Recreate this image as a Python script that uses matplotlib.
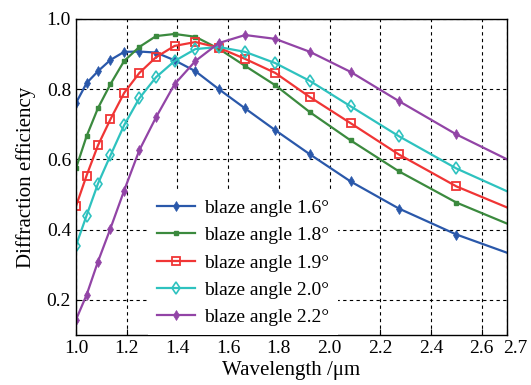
import matplotlib
matplotlib.use('Agg')
import matplotlib.pyplot as plt
import matplotlib.transforms as mtransforms

plt.rcParams['font.family'] = ['Liberation Serif', 'DejaVu Serif']
plt.rcParams['mathtext.fontset'] = 'dejavuserif'

# wavelength samples (um)
wavelength = [1.0, 1.042, 1.087, 1.136, 1.19, 1.25, 1.316, 1.389, 1.471, 1.563,
              1.667, 1.786, 1.923, 2.083, 2.273, 2.5, 2.7]

eff_16 = [0.760, 0.817, 0.851, 0.883, 0.906, 0.907, 0.904, 0.882, 0.851, 0.800,
          0.745, 0.683, 0.614, 0.537, 0.460, 0.386, 0.334]
eff_18 = [0.574, 0.666, 0.746, 0.814, 0.880, 0.920, 0.951, 0.957, 0.949, 0.915,
          0.866, 0.811, 0.734, 0.654, 0.566, 0.477, 0.417]
eff_19 = [0.466, 0.554, 0.640, 0.714, 0.789, 0.846, 0.891, 0.923, 0.934, 0.918,
          0.886, 0.846, 0.777, 0.703, 0.614, 0.523, 0.463]
eff_20 = [0.354, 0.440, 0.531, 0.611, 0.697, 0.774, 0.834, 0.880, 0.914, 0.920,
          0.906, 0.874, 0.823, 0.751, 0.666, 0.574, 0.509]
eff_22 = [0.143, 0.214, 0.309, 0.403, 0.511, 0.626, 0.720, 0.814, 0.880, 0.931,
          0.954, 0.943, 0.906, 0.849, 0.766, 0.671, 0.600]

labels = ['blaze angle 1.6°', 'blaze angle 1.8°', 'blaze angle 1.9°',
          'blaze angle 2.0°', 'blaze angle 2.2°']

xticks = [1.0, 1.2, 1.4, 1.6, 1.8, 2.0, 2.2, 2.4, 2.6, 2.7]
yticks = [0.2, 0.4, 0.6, 0.8, 1.0]

fig = plt.figure(figsize=(5.31, 3.85), dpi=100)
ax = fig.add_axes([0.143, 0.130, 0.812, 0.821])

ax.grid(True, color='black', linestyle=(0, (3, 3)), linewidth=0.8)
ax.set_axisbelow(True)

mk = list(range(len(wavelength) - 1))
ax.plot(wavelength, eff_16, color='#2a58aa', lw=1.6, marker='d', ms=5, mew=0.5,
        markevery=mk, label=labels[0])
ax.plot(wavelength, eff_18, color='#3b8a3e', lw=1.6, marker='s', ms=2.5,
        markevery=mk, label=labels[1])
ax.plot(wavelength, eff_19, color='#f03535', lw=1.6, marker='s', ms=5.5, mew=1.3,
        mfc='none', markevery=mk, label=labels[2])
ax.plot(wavelength, eff_20, color='#2ec2bf', lw=1.6, marker='d', ms=6.5, mew=1.2,
        mfc='none', markevery=mk, label=labels[3])
ax.plot(wavelength, eff_22, color='#9244a6', lw=1.6, marker='d', ms=5, mew=0.5,
        markevery=mk, label=labels[4])

ax.set_xlim(1.0, 2.7)
ax.set_ylim(0.1, 1.0)
ax.set_xticks(xticks)
ax.set_xticklabels(['%.1f' % v for v in xticks])
ax.set_yticks(yticks)
ax.set_yticklabels(['%.1f' % v for v in yticks])
ax.tick_params(direction='in', labelsize=14, length=4, width=0.8, colors='black')
# nudge the last tick label so 2.6 and 2.7 do not collide
last = ax.get_xticklabels()[-1]
last.set_transform(last.get_transform() + mtransforms.ScaledTranslation(6 / 72, 0, fig.dpi_scale_trans))
for s in ax.spines.values():
    s.set_linewidth(1.0)

ax.set_xlabel('Wavelength /μm', fontsize=15, labelpad=3)
ax.set_ylabel('Diffraction efficiency', fontsize=15, labelpad=8)

leg = ax.legend(loc='lower left', bbox_to_anchor=(0.167, 0.0), frameon=True,
                fancybox=False, edgecolor='none', framealpha=1.0, fontsize=14,
                handlelength=1.95, labelspacing=0.5, borderpad=0.45,
                handletextpad=0.5, borderaxespad=0)

fig.savefig('out.png', dpi=100)
